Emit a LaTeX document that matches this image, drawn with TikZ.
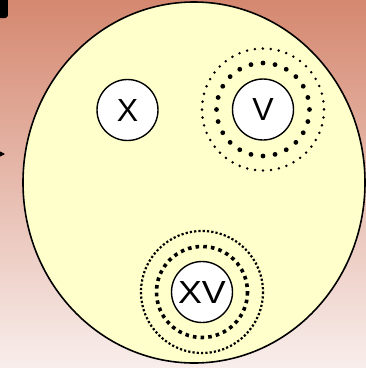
\documentclass[tikz,border=0pt]{standalone}
\usepackage{fontspec}
\setmainfont{Liberation Sans}
\usetikzlibrary{arrows.meta,positioning,shapes.geometric}
\definecolor{bgTop}{RGB}{213,136,112}
\definecolor{bgBottom}{RGB}{248,238,236}
\definecolor{cellYellow}{HTML}{FFFFCC}

\begin{document}
\begin{tikzpicture}[
  x=1pt,y=-1pt,
  cell/.style={ellipse,draw=black,line width=1.6pt,fill=cellYellow,minimum width=342pt,minimum height=361pt,inner sep=0pt},
  letter/.style={circle,draw=black,line width=1.4pt,fill=white,minimum size=61pt,inner sep=0pt,font=\fontsize{32}{32}\selectfont},
  bigdots/.style={line width=4.8pt,line cap=round,dash pattern=on 0pt off 12.17pt},
  smalldots/.style={line width=2.8pt,line cap=round,dash pattern=on 0pt off 7.98pt},
  squaredots/.style={line width=3.6pt,dash pattern=on 3.6pt off 4.1pt},
  finedots/.style={line width=2.2pt,dash pattern=on 2.2pt off 2.1pt},
  arrow/.style={-{Triangle[length=6pt,width=6pt]},line width=1pt}
]
\useasboundingbox (0,0) rectangle (366,368);
\shade[top color=bgTop,bottom color=bgBottom] (0,0) rectangle (366,368);
% cropped pieces at the left border
\fill[black,rounded corners=3pt] (-10,-10) rectangle (8,18);
\coordinate (tail) at (-20,154);
\coordinate (tip) at (5,154);
\draw[arrow] (tail) -- (tip);
% the cell
\node[cell] (cell) at (194,182.5) {};
\node[letter] (x) at (127.5,110) {X};
\node[letter] (v) at (263,109.5) {V};
\node[letter] (xv) at (202,292) {\scalebox{1.12}[1]{XV}};
% rings
\draw[bigdots] (v.center) circle[radius=46.5];
\draw[smalldots] (v.center) circle[radius=61];
\draw[squaredots] (xv.center) circle[radius=45.5];
\draw[finedots] (xv.center) circle[radius=61];
\end{tikzpicture}
\end{document}
